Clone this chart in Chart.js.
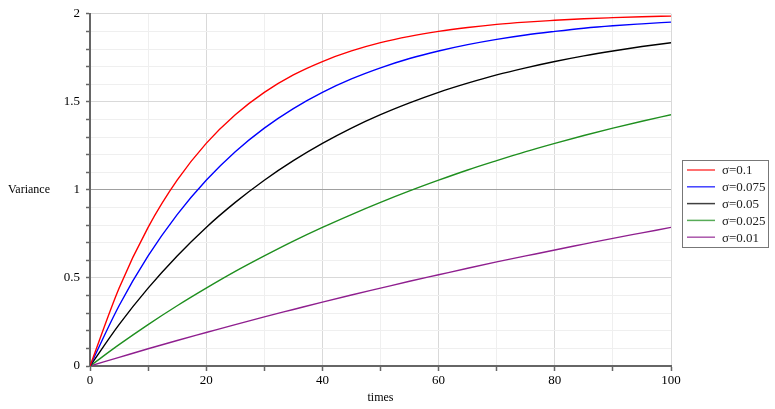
<!DOCTYPE html>
<html>
<head>
<meta charset="utf-8">
<script src="https://cdn.jsdelivr.net/npm/chart.js@4/dist/chart.umd.min.js"></script>
<style>
html,body{margin:0;padding:0;background:#fff;}
#wrap{width:775px;height:409px;position:relative;}
</style>
</head>
<body>
<div id="wrap"><canvas id="c" width="775" height="409"></canvas></div>
<script>
const times = [0,5,10,15,20,25,30,35,40,45,50,55,60,65,70,75,80,85,90,95,100];
const seriesLabels = ['σ=0.1','σ=0.075','σ=0.05','σ=0.025','σ=0.01'];
const seriesColors = ['#ff0000','#0000ff','#000000','#1f8f1f','#8f1f8f'];
const sigma0100 = [0,0.442,0.787,1.055,1.264,1.427,1.554,1.653,1.729,1.789,1.836,1.872,1.900,1.922,1.940,1.953,1.963,1.972,1.978,1.983,1.987];
const sigma0075 = [0,0.342,0.625,0.860,1.055,1.217,1.351,1.462,1.554,1.630,1.693,1.746,1.789,1.825,1.855,1.880,1.900,1.918,1.932,1.943,1.953];
const sigma0050 = [0,0.235,0.442,0.625,0.787,0.929,1.055,1.166,1.264,1.351,1.427,1.494,1.554,1.606,1.653,1.693,1.729,1.761,1.789,1.814,1.836];
const sigma0025 = [0,0.121,0.235,0.342,0.442,0.537,0.625,0.709,0.787,0.860,0.929,0.994,1.055,1.113,1.166,1.217,1.264,1.309,1.351,1.390,1.427];
const sigma0010 = [0,0.049,0.098,0.145,0.190,0.235,0.279,0.321,0.363,0.403,0.442,0.481,0.518,0.555,0.591,0.625,0.659,0.692,0.725,0.756,0.787];
const allSeries = [sigma0100, sigma0075, sigma0050, sigma0025, sigma0010];
const xTickLabels = [0,20,40,60,80,100];
const yTickLabels = [0,0.5,1,1.5,2];

const FONT = '"Liberation Serif","Times New Roman",serif';

const datasets = allSeries.map((vals, i) => ({
  label: seriesLabels[i],
  data: times.map((t, j) => ({x: t, y: vals[j]})),
  borderColor: seriesColors[i],
  backgroundColor: seriesColors[i],
  borderWidth: 1.4,
  pointRadius: 0,
  cubicInterpolationMode: 'monotone',
  fill: false
}));

const extras = {
  id: 'extras',
  afterDraw(chart) {
    const ctx = chart.ctx;
    const ca = chart.chartArea;
    ctx.save();
    // axis titles
    ctx.fillStyle = '#000';
    ctx.font = '12px ' + FONT;
    ctx.textBaseline = 'middle';
    ctx.textAlign = 'left';
    ctx.fillText('Variance', 8, 190);
    ctx.textAlign = 'center';
    ctx.fillText('times', (ca.left + ca.right) / 2, 398);
    // legend
    const bx = 682, by = 160, bw = 86, bh = 87;
    ctx.fillStyle = '#fff';
    ctx.fillRect(bx, by, bw, bh);
    ctx.strokeStyle = '#777';
    ctx.lineWidth = 1;
    ctx.strokeRect(bx + 0.5, by + 0.5, bw, bh);
    ctx.font = '13px ' + FONT;
    ctx.textAlign = 'left';
    chart.data.datasets.forEach((ds, i) => {
      const y = by + 10 + i * 16.8;
      ctx.strokeStyle = ds.borderColor;
      ctx.globalAlpha = 0.75;
      ctx.lineWidth = 1.5;
      ctx.beginPath();
      ctx.moveTo(bx + 5, y);
      ctx.lineTo(bx + 33, y);
      ctx.stroke();
      ctx.globalAlpha = 1;
      ctx.fillStyle = '#222';
      ctx.fillText(ds.label, bx + 40, y + 1);
    });
    ctx.restore();
  }
};

const isMult = (v, step) => Math.abs(Math.round(v / step) * step - v) < 1e-6;

new Chart(document.getElementById('c'), {
  type: 'line',
  data: { datasets },
  plugins: [extras],
  options: {
    responsive: false,
    animation: false,
    events: [],
    layout: { padding: { left: 0, right: 104, top: 13, bottom: 0 } },
    plugins: { legend: { display: false }, tooltip: { enabled: false } },
    scales: {
      x: {
        type: 'linear', min: 0, max: 100,
        afterFit(s) { s.height = 43; },
        afterBuildTicks(s) { s.ticks = []; for (let v = 0; v <= 100; v += 10) s.ticks.push({value: v}); },
        ticks: {
          autoSkip: false, maxRotation: 0, padding: 2,
          color: '#000', font: { family: FONT, size: 13 },
          callback: (v) => xTickLabels.includes(v) ? String(v) : ''
        },
        grid: {
          drawTicks: true, tickLength: 5,
          color: (c) => c.tick && isMult(c.tick.value, 20) ? '#d9d9d9' : '#efefef',
          lineWidth: 1,
          tickColor: '#666', tickWidth: 1.5
        },
        border: { display: true, color: '#666', width: 2 }
      },
      y: {
        type: 'linear', min: 0, max: 2,
        afterFit(s) { s.width = 90; },
        afterBuildTicks(s) { s.ticks = []; for (let k = 0; k <= 20; k++) s.ticks.push({value: k / 10}); },
        ticks: {
          autoSkip: false, padding: 6,
          color: '#000', font: { family: FONT, size: 13 },
          callback: (v) => yTickLabels.some(t => Math.abs(t - v) < 1e-6) ? String(Math.round(v * 10) / 10) : ''
        },
        grid: {
          drawTicks: true, tickLength: 4,
          color: (c) => {
            if (!c.tick) return '#efefef';
            const v = c.tick.value;
            if (Math.abs(v - 1) < 1e-6) return '#a0a0a0';
            return isMult(v, 0.5) ? '#d9d9d9' : '#efefef';
          },
          lineWidth: 1,
          tickColor: '#666', tickWidth: 1.5
        },
        border: { display: true, color: '#666', width: 2 }
      }
    }
  }
});
</script>
</body>
</html>
